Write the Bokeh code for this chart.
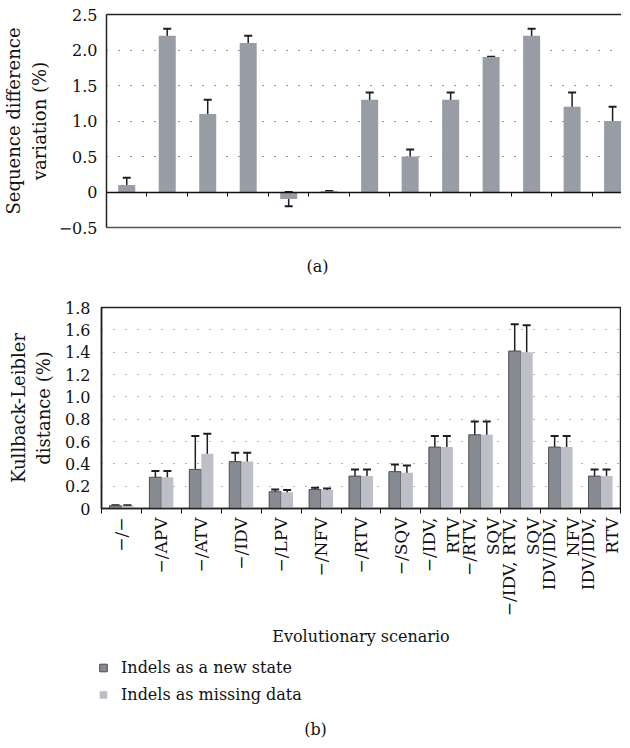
import math
import numpy as np
from bokeh.plotting import figure
from bokeh.models import (ColumnDataSource, FixedTicker, LinearAxis, Range1d, Whisker, TeeHead,
                          Legend, LegendItem, Label)
from bokeh.layouts import column, row
from bokeh.embed import file_html
from bokeh.resources import INLINE

# ---------------- data ----------------
# panel (a): sequence difference variation (%)
a_values = [0.10, 2.20, 1.10, 2.10, -0.10, 0.01, 1.30, 0.50, 1.30, 1.90, 2.20, 1.20, 1.00]
a_errors = [0.10, 0.10, 0.20, 0.10, 0.10, 0.005, 0.10, 0.10, 0.10, 0.005, 0.10, 0.20, 0.20]
a_ticks = [-0.5, 0.0, 0.5, 1.0, 1.5, 2.0, 2.5]
a_tick_labels = ["\u22120.5", "0", "0.5", "1.0", "1.5", "2.0", "2.5"]
a_grid = [0.5, 1.0, 1.5, 2.0]

# panel (b): Kullback-Leibler distance (%)
scenarios = ["\u2212/\u2212", "\u2212/APV", "\u2212/ATV", "\u2212/IDV", "\u2212/LPV", "\u2212/NFV",
             "\u2212/RTV", "\u2212/SQV", "\u2212/IDV,\nRTV", "\u2212/RTV,\nSQV",
             "\u2212/IDV, RTV,\nSQV", "IDV/IDV,\nNFV", "IDV/IDV,\nRTV"]
new_state = [0.025, 0.28, 0.35, 0.42, 0.15, 0.17, 0.29, 0.33, 0.55, 0.66, 1.41, 0.55, 0.29]
new_state_err = [0.005, 0.055, 0.30, 0.08, 0.02, 0.015, 0.06, 0.065, 0.10, 0.12, 0.24, 0.10, 0.06]
missing = [0.025, 0.28, 0.49, 0.42, 0.145, 0.165, 0.29, 0.32, 0.55, 0.66, 1.40, 0.55, 0.29]
missing_err = [0.005, 0.055, 0.18, 0.08, 0.02, 0.015, 0.06, 0.065, 0.10, 0.12, 0.24, 0.10, 0.06]
b_ticks = [0.0, 0.2, 0.4, 0.6, 0.8, 1.0, 1.2, 1.4, 1.6, 1.8]
b_tick_labels = ["0", "0.2", "0.4", "0.6", "0.8", "1.0", "1.2", "1.4", "1.6", "1.8"]
b_grid = [0.2, 0.4, 0.6, 0.8, 1.0, 1.2, 1.4, 1.6]
series_labels = ["Indels as a new state", "Indels as missing data"]
x_title = "Evolutionary scenario"
captions = ["(a)", "(b)"]

FONT = "DejaVu Serif"
BAR_A = "#989da5"
DARK = "#868b92"
DARK_LINE = "#4a4f55"
LIGHT = "#bcbfc6"
ERR = "#1e1e1e"
TXT = "#111111"
W = 621

n = len(a_values)
centers = np.arange(n) + 0.5
bounds = list(range(n + 1))


def plain_axis(color, width):
    return LinearAxis(ticker=FixedTicker(ticks=[]), major_tick_out=0, major_tick_in=0,
                      minor_tick_out=0, minor_tick_in=0, major_label_standoff=0,
                      axis_line_color=color, axis_line_width=width)


def blank_fig(h, y_range=(0, 1)):
    f = figure(width=W, height=h, x_range=Range1d(0, 1), y_range=Range1d(*y_range),
               output_backend="svg", toolbar_location=None,
               x_axis_location=None, y_axis_location=None,
               min_border_left=87, min_border_right=0, min_border_top=0, min_border_bottom=0)
    f.outline_line_color = None
    for g in f.grid:
        g.visible = False
    return f


def style_y(ax, ticks, labels, standoff, label, label_standoff):
    ax.ticker = FixedTicker(ticks=ticks)
    ax.major_label_overrides = dict(zip(ticks, labels))
    ax.major_tick_out = 0
    ax.major_tick_in = 0
    ax.minor_tick_out = 0
    ax.minor_tick_in = 0
    ax.major_label_standoff = standoff
    ax.major_label_text_font = FONT
    ax.major_label_text_font_size = "16px"
    ax.major_label_text_color = TXT
    ax.axis_line_color = "#222"
    ax.axis_line_width = 1.5
    ax.axis_label = label
    ax.axis_label_text_font = FONT
    ax.axis_label_text_font_size = "18px"
    ax.axis_label_text_font_style = "normal"
    ax.axis_label_text_color = TXT
    ax.axis_label_standoff = label_standoff


# ---------------- panel (a) ----------------
src_a = ColumnDataSource(dict(
    x=centers, v=a_values,
    lo=np.array(a_values) - np.array(a_errors),
    hi=np.array(a_values) + np.array(a_errors)))

pa = figure(width=W, height=247, x_range=Range1d(0, 12.72), y_range=Range1d(-0.5, 2.5),
            output_backend="svg", toolbar_location=None, x_axis_location=None,
            min_border_left=106, min_border_right=0, min_border_top=14, min_border_bottom=20)
pa.outline_line_color = None
for g in pa.grid:
    if g.dimension == 0:
        g.visible = False

style_y(pa.yaxis[0], a_ticks, a_tick_labels, 9, "Sequence difference\nvariation (%)", 6)

pa.ygrid.ticker = FixedTicker(ticks=a_grid)
pa.ygrid.grid_line_dash = "1 11"
pa.ygrid.grid_line_color = "#333"
pa.ygrid.grid_line_width = 1.2

pa.add_layout(plain_axis("#222", 1.5), "above")
pa.add_layout(plain_axis("#555", 1.5), "below")
zero_a = LinearAxis(fixed_location=0, ticker=FixedTicker(ticks=[], minor_ticks=bounds),
                    major_tick_out=0, major_tick_in=0, minor_tick_out=4, minor_tick_in=0,
                    major_label_standoff=0, axis_line_color="#111", axis_line_width=1.5,
                    minor_tick_line_color="#111")
pa.add_layout(zero_a, "below")

pa.vbar(x="x", top="v", bottom=0, width=0.42, source=src_a, fill_color=BAR_A, line_color=None)
pa.add_layout(Whisker(base="x", lower="lo", upper="hi", source=src_a, line_color=ERR, line_width=1.5,
                      upper_head=TeeHead(size=8, line_color=ERR, line_width=2),
                      lower_head=TeeHead(size=8, line_color=ERR, line_width=2)))

# caption (a)
cap_a = blank_fig(45)
cap_a.add_layout(Label(x=230, y=26, x_units="screen", y_units="screen", text=captions[0],
                       text_align="center", text_baseline="middle", text_font=FONT,
                       text_font_size="16px", text_color=TXT))

# ---------------- panel (b) ----------------
off = 0.15
src_b = ColumnDataSource(dict(
    xd=centers - off, xl=centers + off,
    ns=new_state, md=missing,
    ns_lo=np.array(new_state) - np.array(new_state_err),
    ns_hi=np.array(new_state) + np.array(new_state_err),
    md_lo=np.array(missing) - np.array(missing_err),
    md_hi=np.array(missing) + np.array(missing_err)))

pb = figure(width=W, height=357, x_range=Range1d(0, n), y_range=Range1d(0, 1.8),
            output_backend="svg", toolbar_location=None,
            min_border_left=101, min_border_right=1, min_border_top=15, min_border_bottom=141)
pb.outline_line_color = "#222"
pb.outline_line_width = 1.5
pb.xgrid.visible = False

style_y(pb.yaxis[0], b_ticks, b_tick_labels, 11, "Kullback-Leibler\ndistance (%)", 8)

xb = pb.xaxis[0]
xb.ticker = FixedTicker(ticks=list(centers), minor_ticks=bounds)
xb.major_label_overrides = dict(zip(list(centers), scenarios))
xb.major_tick_out = 0
xb.major_tick_in = 0
xb.minor_tick_out = 5
xb.minor_tick_in = 0
xb.minor_tick_line_color = "#111"
xb.major_label_orientation = math.pi / 2
xb.major_label_standoff = 4
xb.major_label_text_font = FONT
xb.major_label_text_font_size = "17px"
xb.major_label_text_color = TXT
xb.axis_line_color = "#222"
xb.axis_line_width = 1.5
xb.axis_label = x_title
xb.axis_label_text_font = FONT
xb.axis_label_text_font_size = "16px"
xb.axis_label_text_font_style = "normal"
xb.axis_label_text_color = TXT
xb.axis_label_standoff = 8

pb.ygrid.ticker = FixedTicker(ticks=b_grid)
pb.ygrid.grid_line_dash = "1 11"
pb.ygrid.grid_line_color = "#666"
pb.ygrid.grid_line_width = 1.2

bar_dark = dict(fill_color=DARK, line_color=DARK_LINE, line_width=1)
bar_light = dict(fill_color=LIGHT, line_color=None)
pb.vbar(x="xd", top="ns", bottom=0, width=0.3, source=src_b, **bar_dark)
pb.vbar(x="xl", top="md", bottom=0, width=0.3, source=src_b, **bar_light)
for base, lo, hi in (("xd", "ns_lo", "ns_hi"), ("xl", "md_lo", "md_hi")):
    pb.add_layout(Whisker(base=base, lower=lo, upper=hi, source=src_b, line_color=ERR, line_width=1.5,
                          upper_head=TeeHead(size=8, line_color=ERR, line_width=2),
                          lower_head=TeeHead(size=8, line_color=ERR, line_width=2)))

# legend + caption (b): legend proxies share the data but sit outside this strip's y range
cap_b = blank_fig(90, y_range=(5, 6))
proxy_dark = cap_b.scatter(x="xd", y="ns", marker="square", size=8, source=src_b, **bar_dark)
proxy_light = cap_b.scatter(x="xl", y="md", marker="square", size=8, source=src_b, **bar_light)
legend = Legend(items=[LegendItem(label=series_labels[0], renderers=[proxy_dark], index=0),
                       LegendItem(label=series_labels[1], renderers=[proxy_light], index=0)],
                location=(6, 35), orientation="vertical",
                glyph_width=20, glyph_height=19, label_height=19, spacing=8,
                label_standoff=8, padding=0, margin=0,
                label_text_font=FONT, label_text_font_size="16px", label_text_color=TXT,
                border_line_color=None, background_fill_alpha=0)
cap_b.add_layout(legend)
cap_b.add_layout(Label(x=228, y=10, x_units="screen", y_units="screen", text=captions[1],
                       text_align="center", text_baseline="middle", text_font=FONT,
                       text_font_size="16px", text_color=TXT))

layout = column(row(pa), row(cap_a), row(pb), row(cap_b), spacing=0)
open("out.html", "w").write(file_html(layout, INLINE))
